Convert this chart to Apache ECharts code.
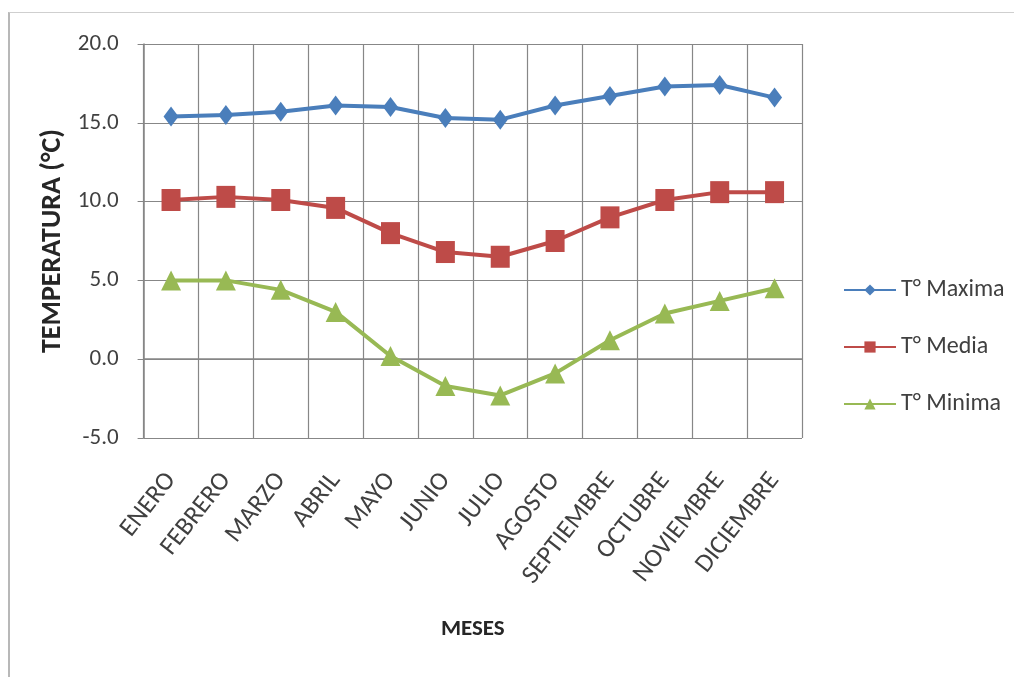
<!DOCTYPE html>
<html>
<head>
<meta charset="utf-8">
<script src="https://cdn.jsdelivr.net/npm/echarts@6/dist/echarts.min.js"></script>
<style>
  html, body { margin: 0; padding: 0; background: #fff; }
  #frame { position: absolute; left: 8px; top: 12px; width: 1006px; height: 665px;
           border-left: 2px solid #b8b8b8; border-top: 1px solid #cfcfcf; box-sizing: border-box; }
  #chart { position: absolute; left: 0; top: 0; width: 1014px; height: 677px; }
</style>
</head>
<body>
<div id="frame"></div>
<div id="chart"></div>
<script>
var meses = ['ENERO', 'FEBRERO', 'MARZO', 'ABRIL', 'MAYO', 'JUNIO', 'JULIO',
  'AGOSTO', 'SEPTIEMBRE', 'OCTUBRE', 'NOVIEMBRE', 'DICIEMBRE'];
var tMaxima = [15.4, 15.5, 15.7, 16.1, 16.0, 15.3, 15.2, 16.1, 16.7, 17.3, 17.4, 16.6];
var tMedia = [10.1, 10.3, 10.1, 9.6, 8.0, 6.8, 6.5, 7.5, 9.0, 10.1, 10.6, 10.6];
var tMinima = [5.0, 5.0, 4.4, 3.0, 0.2, -1.7, -2.3, -0.9, 1.2, 2.9, 3.7, 4.5];

var font = 'Carlito, "Open Sans", sans-serif';

var myChart = echarts.init(document.getElementById('chart'));

function serie(name, data, color, symbol, size) {
  return {
    name: name,
    type: 'line',
    data: data,
    symbol: symbol,
    symbolSize: size,
    lineStyle: { color: color, width: 4 },
    itemStyle: { color: color },
    animation: false
  };
}

var option = {
  backgroundColor: 'transparent',
  textStyle: { fontFamily: font },
  grid: { left: 143.6, right: 212, top: 44, bottom: 239 },
  legend: {
    orient: 'vertical',
    left: 838,
    top: 273,
    itemWidth: 52,
    itemHeight: 14,
    itemGap: 33,
    textStyle: { fontSize: 24, color: '#404040', fontFamily: font },
    data: ['T° Maxima', 'T° Media', 'T° Minima']
  },
  xAxis: {
    type: 'category',
    data: meses,
    boundaryGap: true,
    name: 'MESES',
    nameLocation: 'middle',
    nameGap: 180,
    nameTextStyle: { fontSize: 23, fontWeight: 'bold', color: '#262626', fontFamily: font },
    axisLine: { lineStyle: { color: '#868686', width: 1.5 } },
    axisTick: { show: true, alignWithLabel: false, length: 5, lineStyle: { color: '#868686' } },
    splitLine: { show: true, lineStyle: { color: '#878787', width: 1.2 } },
    axisLabel: { rotate: 52, fontSize: 26, color: '#404040', margin: 38, interval: 0 }
  },
  yAxis: {
    type: 'value',
    min: -5,
    max: 20,
    interval: 5,
    name: 'TEMPERATURA (°C)',
    nameLocation: 'middle',
    nameGap: 72,
    nameRotate: 90,
    nameTextStyle: { fontSize: 28, fontWeight: 'bold', color: '#262626', fontFamily: font },
    axisLine: { show: true, lineStyle: { color: '#868686', width: 1.5 } },
    axisTick: { show: true, length: 6, lineStyle: { color: '#868686' } },
    splitLine: { show: true, lineStyle: { color: '#878787', width: 1.2 } },
    axisLabel: {
      fontSize: 23, color: '#404040', margin: 25,
      formatter: function (v) { return v.toFixed(1); }
    }
  },
  series: [
    serie('T° Maxima', tMaxima, '#4a7ebb', 'diamond', [15, 20]),
    serie('T° Media', tMedia, '#be4b48', 'rect', [19, 22]),
    serie('T° Minima', tMinima, '#98b954', 'triangle', 20)
  ]
};

myChart.setOption(option);
</script>
</body>
</html>
